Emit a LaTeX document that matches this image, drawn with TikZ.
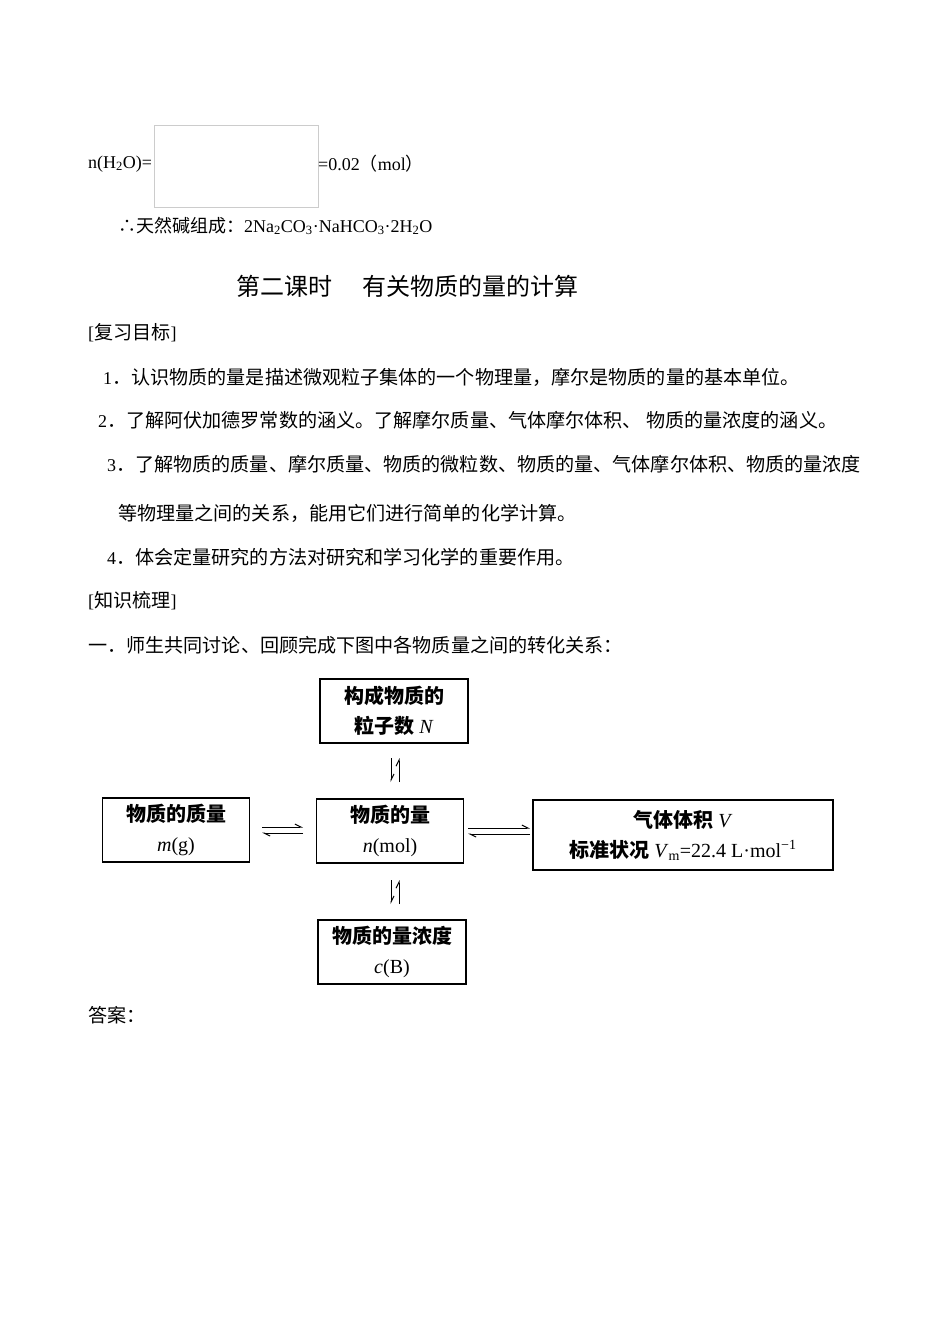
\documentclass[tikz,border=0pt]{standalone}
\usepackage{fontspec}
\setmainfont{Liberation Serif}
\newfontfamily\cjk{Noto Sans CJK SC}
\usetikzlibrary{arrows.meta}
\tikzset{
 txt/.style={anchor=west,inner sep=0pt,font=\fontsize{18}{20}\selectfont},
 box/.style={draw,line width=1.3pt,minimum width=#1,minimum height=64pt,align=center,font=\fontsize{20}{30}\selectfont,inner sep=2pt},
 hp/.style={line width=1pt,-{Straight Barb[left,length=6pt,width=6pt]}}
}
\newcommand{\zh}[1]{{\cjk\bfseries #1}}
\newcommand{\zt}{\cjk\fontsize{19.1}{20}\selectfont}
\begin{document}
\begin{tikzpicture}[x=1pt,y=-1pt]
\useasboundingbox[fill=white] (0,0) rectangle (950,1342);
\node[txt] (t1) at (88,164) {n(H\textsubscript{2}O)=};
\node[draw=black!20,minimum width=164pt,minimum height=82pt,inner sep=0pt] (img) at (236,166) {};
\node[txt] (t2) at (318,164) {=0.02{\cjk （}mol{\cjk ）}};
\node[txt] (t3) at (118,226) {{\cjk ∴天然碱组成：}2Na\textsubscript{2}CO\textsubscript{3}·NaHCO\textsubscript{3}·2H\textsubscript{2}O};
\node[txt,font=\fontsize{24}{26}\selectfont\cjk] (title) at (236,286) {第二课时\hspace{30pt}有关物质的量的计算};
\node[txt] (a) at (88,333) {[{\zt 复习目标}]};
\node[txt] (b) at (103,377) {1{\zt ．认识物质的量是描述微观粒子集体的一个物理量，摩尔是物质的量的基本单位。}};
\node[txt] (c) at (98,420) {2{\zt ．了解阿伏加德罗常数的涵义。了解摩尔质量、气体摩尔体积、 物质的量浓度的涵义。}};
\node[txt] (d) at (107,464) {3{\zt ．了解物质的质量、摩尔质量、物质的微粒数、物质的量、气体摩尔体积、物质的量浓度}};
\node[txt] (e) at (118,513) {\zt 等物理量之间的关系，能用它们进行简单的化学计算。};
\node[txt] (f) at (107,557) {4{\zt ．体会定量研究的方法对研究和学习化学的重要作用。}};
\node[txt] (g) at (88,601) {[{\zt 知识梳理}]};
\node[txt] (h) at (88,645) {\zt 一．师生共同讨论、回顾完成下图中各物质量之间的转化关系：};
\node[box=148pt] (N) at (394,711) {\zh{构成物质的}\\\zh{粒子数} \textit{N}};
\node[box=147pt] (m) at (176,830) {\zh{物质的质量}\\\textit{m}(g)};
\node[box=147pt] (n) at (390,831) {\zh{物质的量}\\\textit{n}(mol)};
\node[box=300pt,minimum height=70pt] (V) at (683,835) {\zh{气体体积} \textit{V}\\\zh{标准状况} \textit{V}\textsubscript{m}=22.4 L·mol\textsuperscript{−1}};
\node[box=148pt] (c2) at (392,952) {\zh{物质的量浓度}\\\textit{c}(B)};
\coordinate (v1a) at (391,758); \coordinate (v1b) at (391,782);
\coordinate (v2a) at (399,782); \coordinate (v2b) at (399,758);
\coordinate (v3a) at (391,880); \coordinate (v3b) at (391,904);
\coordinate (v4a) at (399,904); \coordinate (v4b) at (399,880);
\coordinate (h1a) at (262,827); \coordinate (h1b) at (303,827);
\coordinate (h2a) at (303,833); \coordinate (h2b) at (262,833);
\coordinate (h3a) at (468,828); \coordinate (h3b) at (530,828);
\coordinate (h4a) at (530,834); \coordinate (h4b) at (468,834);
\draw[hp] (v1a) -- (v1b);
\draw[hp] (v2a) -- (v2b);
\draw[hp] (v3a) -- (v3b);
\draw[hp] (v4a) -- (v4b);
\draw[hp] (h1a) -- (h1b);
\draw[hp] (h2a) -- (h2b);
\draw[hp] (h3a) -- (h3b);
\draw[hp] (h4a) -- (h4b);
\node[txt] (ans) at (88,1015) {\zt 答案：};
\end{tikzpicture}
\end{document}
